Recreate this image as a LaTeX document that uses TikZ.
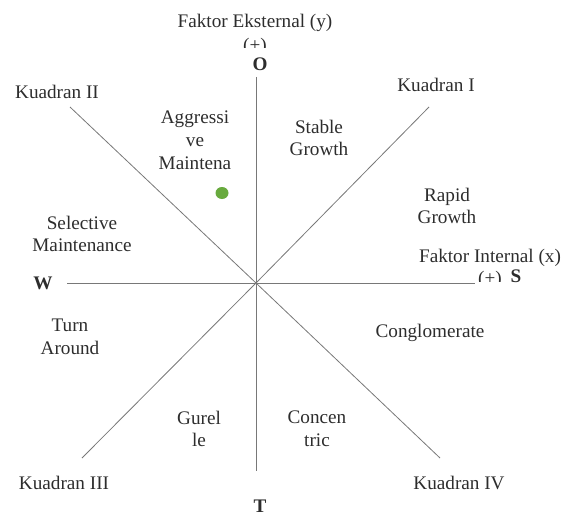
\documentclass[tikz,border=0pt]{standalone}
\usepackage{fontspec}
\setmainfont{Liberation Serif}
\definecolor{txt}{RGB}{45,45,45}
\definecolor{axis}{RGB}{120,120,120}
\definecolor{dotgreen}{RGB}{104,170,62}
\begin{document}
\begin{tikzpicture}[x=1pt,y=-1pt,
  lbl/.style={text=txt,font=\fontsize{19.2}{22.8}\selectfont,align=center,inner sep=0pt},
  pole/.style={text=txt,font=\fontsize{19.2}{22.8}\selectfont\bfseries,inner sep=0pt},
  ax/.style={draw=axis,line width=0.8pt}]
\useasboundingbox (0,0) rectangle (575,516);
% axis end points
\coordinate (c) at (256,283);
\coordinate (top) at (256,77);
\coordinate (bot) at (256,471);
\coordinate (left) at (67,283);
\coordinate (right) at (475,283);
\coordinate (nw) at (70,107);
\coordinate (ne) at (429,107);
\coordinate (sw) at (82,458);
\coordinate (se) at (440,458);
\draw[ax] (top) -- (bot);
\draw[ax] (left) -- (right);
\draw[ax] (nw) -- (c) -- (se);
\draw[ax] (ne) -- (c) -- (sw);
% labels
\node[lbl] (fe) at (255,23) {Faktor Eksternal (y)};
\begin{scope}
\clip (200,30) rectangle (310,48);
\node[lbl,anchor=base] (fep) at (255,52) {(+)};
\end{scope}
\node[pole] (o) at (260,64) {O};
\node[lbl] (k2) at (57,92) {Kuadran II};
\node[lbl] (k1) at (436,85) {Kuadran I};
\node[lbl] (agg) at (195,140) {Aggressi\\ve\\Maintena};
\fill[dotgreen] (222,193) ellipse (6.5 and 6);
\node[lbl] (sg) at (319,138) {Stable\\Growth};
\node[lbl] (rg) at (447,206) {Rapid\\Growth};
\node[lbl] (fi) at (490,258) {Faktor Internal (x)};
\begin{scope}
\clip (470,262) rectangle (510,281);
\node[lbl,anchor=base] (fip) at (490,284) {(+)};
\end{scope}
\node[pole] (s) at (516,276) {S};
\node[lbl] (sm) at (82,234) {Selective\\Maintenance};
\node[pole] (w) at (43,283) {W};
\node[lbl] (ta) at (70,337) {Turn\\Around};
\node[lbl] (cg) at (430,333) {Conglomerate};
\node[lbl] (gu) at (199,429) {Gurel\\le};
\node[lbl] (co) at (317,429) {Concen\\tric};
\node[lbl] (k3) at (64,483) {Kuadran III};
\node[lbl] (k4) at (459,483) {Kuadran IV};
\node[pole] (t) at (260,506) {T};
\end{tikzpicture}
\end{document}
